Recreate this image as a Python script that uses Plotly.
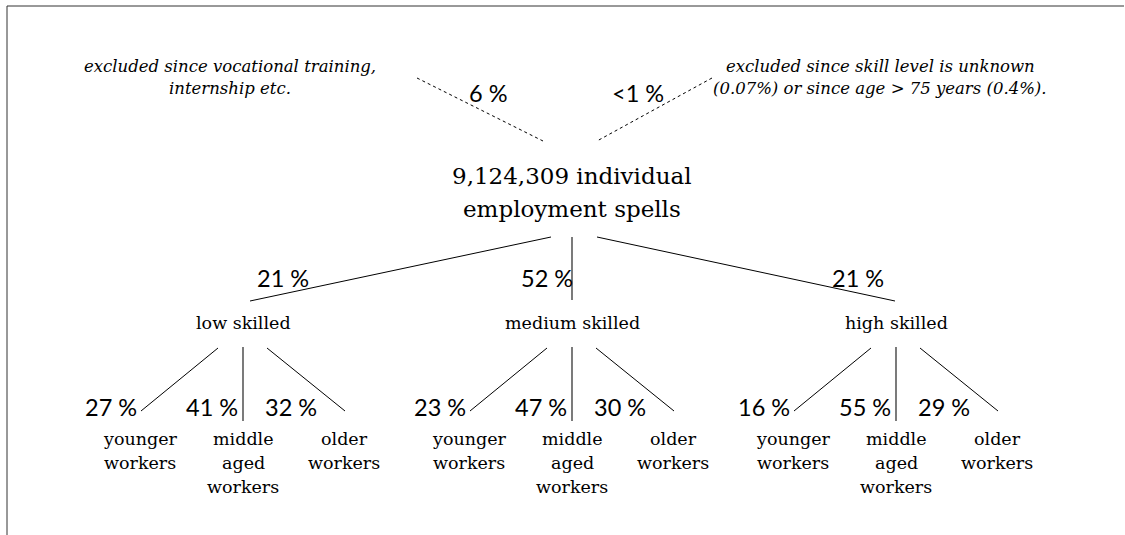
import plotly.graph_objects as go

# ---------------- data ----------------
total_label = ["9,124,309 individual", "employment spells"]
excluded_shares = ["6 %", "<1 %"]
excluded_notes = [
    ["excluded since vocational training,", "internship etc."],
    ["excluded since skill level is unknown", "(0.07%) or since age > 75 years (0.4%)."],
]
skill_levels = ["low skilled", "medium skilled", "high skilled"]
skill_shares = [21, 52, 21]
age_groups = [["younger", "workers"], ["middle", "aged", "workers"], ["older", "workers"]]
age_shares = [[27, 41, 32], [23, 47, 30], [16, 55, 29]]

# ---------------- layout parameters ----------------
W, H = 1125, 535
SERIF = "DejaVu Serif"
SANS = "Lato"
BLACK = "#000000"
PCT_SIZE = 23.5

root_x = 572
skill_x = [243, 572, 896]
skill_edge_start = [551, 572, 597]
skill_edge_end = [250, 572, 895]
skill_share_x = [283, 547, 858]
age_edge_top = [-25, 0, 24]
age_edge_bot = [-102, 0, 102]
age_share_dx = [-132, -31, 48]
age_label_dx = [-103, 0, 101]

fig = go.Figure()

def add_line(xs, ys, dash=None, color=BLACK, width=1):
    fig.add_trace(go.Scatter(
        x=xs, y=ys, mode="lines", hoverinfo="skip", showlegend=False,
        line=dict(color=color, width=width, dash=dash),
    ))

def add_text(x, y, text, size, family, italic=False):
    fig.add_annotation(
        x=x, y=y, text=(f"<i>{text}</i>" if italic else text), showarrow=False,
        xanchor="center", yanchor="middle",
        font=dict(family=family, size=size, color=BLACK),
    )

# excluded branches (dashed)
add_line([417, 543], [78, 141], dash="3px,3px", width=1)
add_line([712, 597], [78, 141], dash="3px,3px", width=1)
for x, s in zip([488, 638], excluded_shares):
    add_text(x, 93, s, PCT_SIZE, SANS)
for cx, lines in zip([230, 880], excluded_notes):
    for i, t in enumerate(lines):
        add_text(cx, 66 + 22 * i, t, 16.5, SERIF, italic=True)

# root
for i, t in enumerate(total_label):
    add_text(root_x, 176 + 33 * i, t, 23, SERIF)

# root -> skill edges
for i, (s, e) in enumerate(zip(skill_edge_start, skill_edge_end)):
    if i == 1:
        add_line([s, e], [237, 300], color="#222222", width=1.2)
    else:
        add_line([s, e], [237, 301], width=1)
    add_text(skill_share_x[i], 278, f"{skill_shares[i]} %", PCT_SIZE, SANS)
    add_text(skill_x[i], 323, skill_levels[i], 17.5, SERIF)

# skill -> age edges
for k, cx in enumerate(skill_x):
    for j in range(3):
        if j == 1:
            add_line([cx, cx], [347, 421], color="#222222", width=1.2)
        else:
            add_line([cx + age_edge_top[j], cx + age_edge_bot[j]], [348, 411], width=1)
        add_text(cx + age_share_dx[j], 407, f"{age_shares[k][j]} %", PCT_SIZE, SANS)
        for li, t in enumerate(age_groups[j]):
            add_text(cx + age_label_dx[j], 439 + 24 * li, t, 17.5, SERIF)

# frame (top and left edges only)
fig.add_shape(type="line", x0=7, y0=6, x1=W - 1, y1=6, line=dict(color="#333333", width=1))
fig.add_shape(type="line", x0=7, y0=6, x1=7, y1=H, line=dict(color="#333333", width=1))

fig.update_layout(
    width=W, height=H, margin=dict(l=0, r=0, t=0, b=0),
    paper_bgcolor="white", plot_bgcolor="white", showlegend=False,
    xaxis=dict(range=[0, W], visible=False, fixedrange=True),
    yaxis=dict(range=[H, 0], visible=False, fixedrange=True),
)

fig.write_html(
    "out.html",
    config={"displayModeBar": False},
    post_script="document.body.style.margin='0';document.body.style.overflow='hidden';",
)
